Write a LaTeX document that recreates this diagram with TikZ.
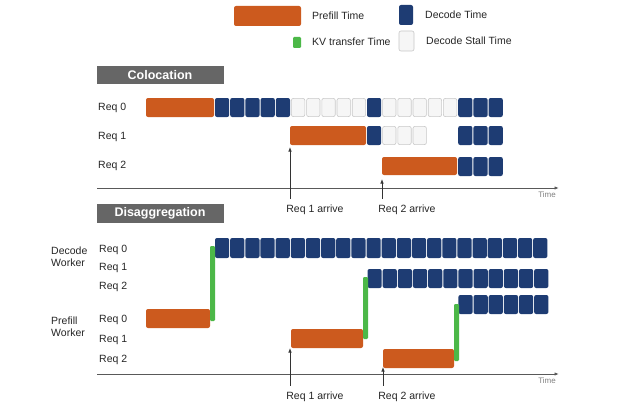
\documentclass[tikz,border=0pt]{standalone}
\usepackage{fontspec}
\setmainfont{Liberation Sans}
\usepackage{tikz}
\usetikzlibrary{arrows.meta}
\definecolor{PrefillOrange}{RGB}{204,90,30}
\definecolor{DecodeBlue}{RGB}{30,60,115}
\definecolor{KVGreen}{RGB}{76,184,72}
\definecolor{StallFill}{RGB}{246,246,246}
\definecolor{StallEdge}{RGB}{200,200,200}
\definecolor{HeaderGray}{RGB}{102,102,102}

\begin{document}
\begin{tikzpicture}[x=1pt,y=-1pt,>={Latex[length=4.5pt,width=3.4pt]},
  every node/.style={inner sep=0pt,font=\fontsize{10.5}{11.5}\selectfont,text=black!85},
  prefill/.style={fill=PrefillOrange,rounded corners=2pt},
  decode/.style={fill=DecodeBlue,rounded corners=2pt},
  stall/.style={fill=StallFill,draw=StallEdge,line width=0.6pt,rounded corners=2pt},
  kv/.style={fill=KVGreen,rounded corners=1.2pt},
  header/.style={fill=HeaderGray,text=white,font=\fontsize{12.5}{14}\selectfont\bfseries,minimum width=127pt,minimum height=18.5pt},
  axis/.style={->,draw=black!65,line width=0.9pt},
  timelbl/.style={font=\fontsize{8}{9}\selectfont,text=black!50},
  arrive/.style={->,draw=black!80,line width=0.7pt}]
  \useasboundingbox[fill=white] (0,0) rectangle (624,404);

  % legend
  \fill[prefill] (234,6) rectangle (301,26);
  \node[anchor=west] (lgpre) at (312,16) {Prefill Time};
  \fill[decode] (399,5) rectangle (413,25);
  \node[anchor=west] (lgdec) at (425,15) {Decode Time};
  \fill[kv] (293,37) rectangle (301,48);
  \node[anchor=west] (lgkv) at (312,42) {KV transfer Time};
  \draw[stall] (399,31) rectangle (414,51);
  \node[anchor=west] (lgstall) at (426,41) {Decode Stall Time};

  % colocation
  \node[header] (coloc) at (160,75) {Colocation};
  \node[anchor=west] (c0) at (98,108) {Req 0};
  \node[anchor=west] (c1) at (98,137) {Req 1};
  \node[anchor=west] (c2) at (98,166) {Req 2};

  \fill[prefill] (146,98) rectangle (214,117);
  \foreach \i in {0,1,2,3,4,10,16,17,18}
    \fill[decode] ({215+15.2*\i},98) rectangle ++(14.2,19);
  \foreach \i in {5,6,7,8,9,11,12,13,14,15}
    \draw[stall] ({215.4+15.2*\i},98.4) rectangle ++(13.4,18.2);

  \fill[prefill] (290,126) rectangle (366,145);
  \foreach \i in {10,16,17,18}
    \fill[decode] ({215+15.2*\i},126) rectangle ++(14.2,19);
  \foreach \i in {11,12,13}
    \draw[stall] ({215.4+15.2*\i},126.4) rectangle ++(13.4,18.2);

  \fill[prefill] (382,157) rectangle (457,175);
  \foreach \i in {16,17,18}
    \fill[decode] ({215+15.2*\i},157) rectangle ++(14.2,19);

  \coordinate (t1s) at (97,188);
  \coordinate (t1e) at (559,188);
  \draw[axis] (t1s) -- (t1e);
  \node[timelbl] (time1) at (547,195) {Time};

  \coordinate (c1tip) at (290,147);
  \coordinate (c2tip) at (382,179);
  \node[outer ysep=6.5pt] (c1arr) at (315,210) {Req 1 arrive};
  \node[outer ysep=6.5pt] (c2arr) at (407,210) {Req 2 arrive};
  \draw[arrive] (c1arr.north -| c1tip) -- (c1tip);
  \draw[arrive] (c2arr.north -| c2tip) -- (c2tip);

  % disaggregation
  \node[header] (disagg) at (160,213.5) {Disaggregation};
  \node[anchor=west,align=left] (dworker) at (51,256.5) {Decode\\Worker};
  \node[anchor=west,align=left] (pworker) at (51,326.5) {Prefill\\Worker};
  \node[anchor=west] (d0) at (99,250) {Req 0};
  \node[anchor=west] (d1) at (99,268) {Req 1};
  \node[anchor=west] (d2) at (99,287) {Req 2};
  \node[anchor=west] (p0) at (99,320) {Req 0};
  \node[anchor=west] (p1) at (99,340) {Req 1};
  \node[anchor=west] (p2) at (99,360) {Req 2};

  \foreach \i in {0,...,21}
    \fill[decode] ({215+15.15*\i},238) rectangle ++(14.2,20);
  \foreach \i in {10,...,21}
    \fill[decode] ({216+15.15*\i},269) rectangle ++(14.2,19);
  \foreach \i in {16,...,21}
    \fill[decode] ({216+15.15*\i},295) rectangle ++(14.2,19);

  \fill[prefill] (146,309) rectangle (210,328);
  \fill[prefill] (291,329) rectangle (363,348);
  \fill[prefill] (383,349) rectangle (454,368);

  \fill[kv] (210,246) rectangle (215,321);
  \fill[kv] (363,277) rectangle (368,339);
  \fill[kv] (454,304) rectangle (459,361);

  \coordinate (t2s) at (97,374);
  \coordinate (t2e) at (559,374);
  \draw[axis] (t2s) -- (t2e);
  \node[timelbl] (time2) at (547,381) {Time};

  \coordinate (d1tip) at (290,348);
  \coordinate (d2tip) at (383,367);
  \node[outer ysep=6.5pt] (d1arr) at (315,397) {Req 1 arrive};
  \node[outer ysep=6.5pt] (d2arr) at (407,397) {Req 2 arrive};
  \draw[arrive] (d1arr.north -| d1tip) -- (d1tip);
  \draw[arrive] (d2arr.north -| d2tip) -- (d2tip);
\end{tikzpicture}
\end{document}
